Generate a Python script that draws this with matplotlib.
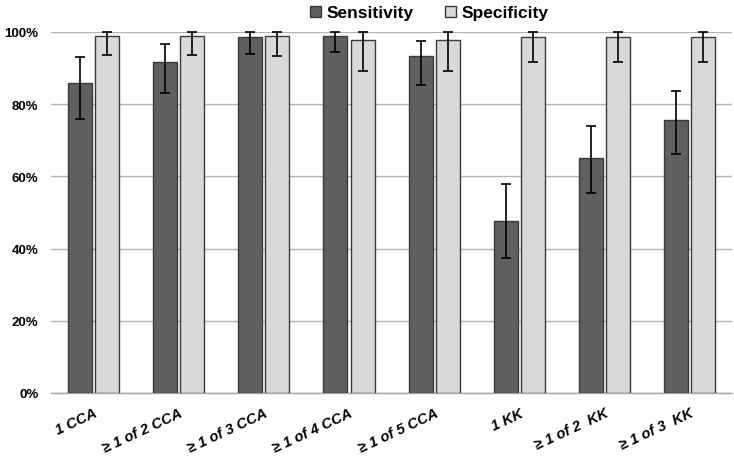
import matplotlib.pyplot as plt
import numpy as np

# Categories and values (proportions)
labels = ['1 CCA', '\u2265 1 of 2 CCA', '\u2265 1 of 3 CCA', '\u2265 1 of 4 CCA',
          '\u2265 1 of 5 CCA', '1 KK', '\u2265 1 of 2  KK', '\u2265 1 of 3  KK']

sens = [0.859, 0.917, 0.986, 0.989, 0.934, 0.476, 0.651, 0.756]
sens_low = [0.759, 0.831, 0.939, 0.945, 0.853, 0.374, 0.554, 0.662]
sens_high = [0.931, 0.967, 1.0, 1.0, 0.975, 0.579, 0.740, 0.836]

spec = [0.989, 0.990, 0.989, 0.978, 0.978, 0.986, 0.986, 0.986]
spec_low = [0.936, 0.936, 0.934, 0.892, 0.893, 0.917, 0.917, 0.917]
spec_high = [1.0, 1.0, 1.0, 1.0, 1.0, 1.0, 1.0, 1.0]

plt.rcParams['font.family'] = ['Liberation Sans', 'DejaVu Sans']

fig = plt.figure(figsize=(7.34, 4.6), dpi=100)
ax = fig.add_axes([0.0695, 0.1435, 0.928, 0.785])

x = np.arange(len(labels))
w = 0.282
off = 0.159

sens = np.array(sens)
spec = np.array(spec)
sens_err = [sens - np.array(sens_low), np.array(sens_high) - sens]
spec_err = [spec - np.array(spec_low), np.array(spec_high) - spec]

ax.bar(x - off, sens, w, color='#5f5f5f', edgecolor='#3a3a3a', linewidth=1,
       label='Sensitivity', zorder=3)
ax.bar(x + off, spec, w, color='#d9d9d9', edgecolor='#3a3a3a', linewidth=1,
       label='Specificity', zorder=3)
ax.errorbar(x - off, sens, yerr=sens_err, fmt='none', ecolor='black',
            elinewidth=1.2, capsize=3.5, capthick=1.2, zorder=4, clip_on=False)
ax.errorbar(x + off, spec, yerr=spec_err, fmt='none', ecolor='black',
            elinewidth=1.2, capsize=3.5, capthick=1.2, zorder=4, clip_on=False)

ax.set_xlim(-0.5, len(labels) - 0.5)
ax.set_ylim(0, 1.0)
ax.set_yticks(np.arange(0, 1.01, 0.2))
ax.set_yticklabels([f'{int(round(v * 100))}%' for v in np.arange(0, 1.01, 0.2)],
                   fontsize=9.5, fontweight='bold')
ax.yaxis.grid(True, color='#b3b3b3', linewidth=1, zorder=0)
ax.set_axisbelow(True)
ax.tick_params(axis='y', length=0, pad=9)
ax.tick_params(axis='x', length=0, pad=9)

ax.set_xticks(x)
ax.set_xticklabels(labels, rotation=25, ha='right', rotation_mode='anchor',
                   fontsize=10.5, fontweight='bold', fontstyle='italic')

for s in ['top', 'right', 'left']:
    ax.spines[s].set_visible(False)
ax.spines['bottom'].set_color('#a6a6a6')
ax.spines['bottom'].set_linewidth(1)

fig.legend(loc='upper center', bbox_to_anchor=(0.585, 1.02), ncol=2, frameon=False,
           prop={'weight': 'bold', 'size': 12.5}, handlelength=0.65, handleheight=0.65,
           handletextpad=0.3, columnspacing=1.8)

fig.savefig('out.png', dpi=100)
